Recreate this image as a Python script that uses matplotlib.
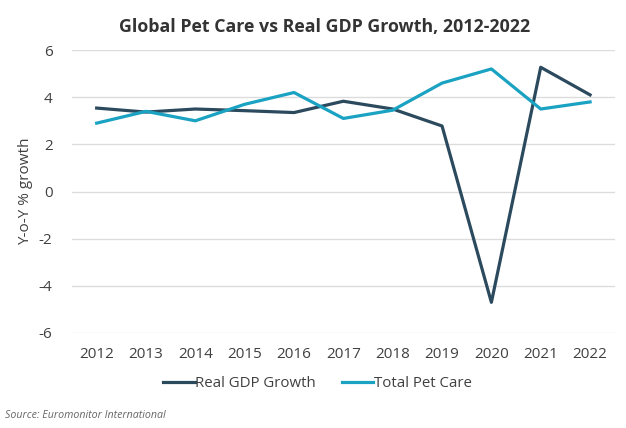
import numpy as np
import matplotlib
matplotlib.use("Agg")
import matplotlib.pyplot as plt

years = ["2012", "2013", "2014", "2015", "2016", "2017", "2018", "2019", "2020", "2021", "2022"]
gdp_growth = [3.54, 3.37, 3.50, 3.43, 3.35, 3.83, 3.50, 2.78, -4.70, 5.27, 4.10]
pet_care = [2.90, 3.40, 3.00, 3.70, 4.20, 3.10, 3.45, 4.60, 5.20, 3.50, 3.80]

plt.rcParams['font.family'] = ['Open Sans', 'DejaVu Sans']
plt.rcParams['axes.unicode_minus'] = False

def main():
    fig = plt.figure(figsize=(6.26, 4.28), dpi=100)
    ax = fig.add_axes([0.115, 0.222, 0.867, 0.661])

    x = np.arange(len(years))
    ax.plot(x, gdp_growth, color="#2c4a5e", lw=2.3, label="Real GDP Growth")
    ax.plot(x, pet_care, color="#1aa2c2", lw=2.3, label="Total Pet Care")

    ### Axes ###
    ax.set_xlim(-0.5, len(years) - 0.5)
    ax.set_ylim(-6, 6)
    ax.set_yticks(range(-6, 7, 2))
    ax.set_xticks(x)
    ax.set_xticklabels(years)
    ax.tick_params(length=0, labelsize=11, labelcolor="#404040")
    ax.tick_params(axis="x", pad=10)
    ax.tick_params(axis="y", pad=14)
    for s in ax.spines.values():
        s.set_visible(False)
    ax.grid(axis="y", color="#dcdcdc", lw=1)
    ax.set_axisbelow(True)
    ax.set_ylabel("Y-o-Y % growth", fontsize=11, color="#404040", labelpad=4)

    ### Title, legend, source ###
    fig.text(0.518, 0.938, "Global Pet Care vs Real GDP Growth, 2012-2022",
             ha="center", va="center", fontsize=12.8, fontweight="bold", color="#333333")
    fig.legend(loc="center", bbox_to_anchor=(0.507, 0.103), ncol=2, frameon=False,
               fontsize=10.8, handlelength=2.1, handletextpad=0.05, columnspacing=1.7,
               labelcolor="#404040")
    fig.text(0.008, 0.03, "Source: Euromonitor International", fontsize=7.7,
             style="italic", color="#666666", ha="left", va="center")

    fig.savefig("out.png", dpi=100)

if __name__ == "__main__":
    main()
